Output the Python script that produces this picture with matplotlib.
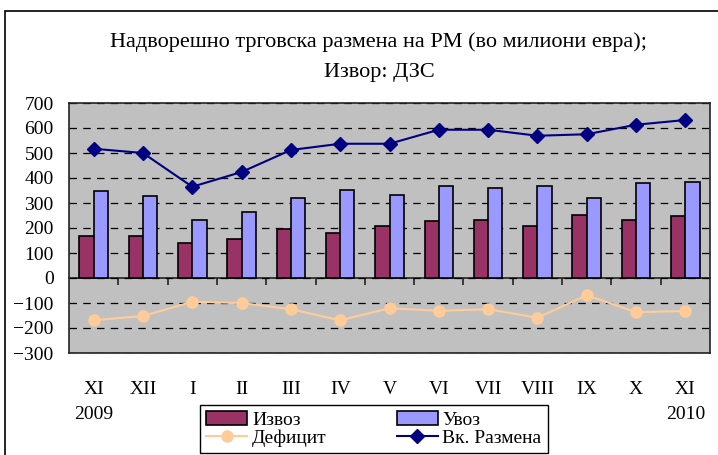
import numpy as np
import matplotlib
matplotlib.use("Agg")
import matplotlib.pyplot as plt
from matplotlib.patches import Rectangle

plt.rcParams['font.family'] = ['Liberation Serif', 'DejaVu Serif']

meseci = ['XI', 'XII', 'I', 'II', 'III', 'IV', 'V', 'VI', 'VII', 'VIII', 'IX', 'X', 'XI']
izvoz = [169, 169, 139, 157, 196, 181, 208, 227, 233, 208, 252, 233, 247]
uvoz = [347, 327, 233, 264, 321, 353, 333, 367, 360, 367, 321, 379, 385]
deficit = [-169, -152, -95, -100, -125, -169, -121, -131, -125, -159, -69, -137, -132]
razmena = [517, 500, 365, 424, 512, 537, 537, 593, 593, 569, 575, 613, 632]
godini = ['2009', '2010']

fig = plt.figure(figsize=(7.18, 4.55), dpi=100)
ax = fig.add_axes([69 / 718, 1 - 353 / 455, 641 / 718, 250 / 455])
ax.set_facecolor('#C0C0C0')

x = np.arange(len(meseci))
w = 0.29
b1 = ax.bar(x - w / 2, izvoz, w, color='#993366', edgecolor='black', linewidth=1.2, zorder=3)
b2 = ax.bar(x + w / 2, uvoz, w, color='#9999FF', edgecolor='black', linewidth=1.2, zorder=3)
l1, = ax.plot(x, deficit, color='#FFCC99', lw=1.5, marker='o', markersize=8, zorder=4)
l2, = ax.plot(x, razmena, color='#000080', lw=1.5, marker='D', markersize=7, zorder=4)

ax.set_xlim(-0.5, len(meseci) - 0.5)
ax.set_ylim(-300, 700)
ax.set_yticks(range(-300, 701, 100))
ax.grid(axis='y', color='black', linestyle=(0, (6, 5)), linewidth=0.9, zorder=1)
ax.set_xticks(x)
ax.set_xticklabels(meseci)
ax.tick_params(axis='x', length=0, pad=20, labelsize=14)
ax.tick_params(axis='y', length=0, pad=11, labelsize=14)
for s in ax.spines.values():
    s.set_linewidth(1.2)
    s.set_color('#222222')

# linija na nula so crticki megju kategoriite
sec = ax.secondary_xaxis(0.3)
sec.set_xticks(x[:-1] + 0.5)
sec.set_xticklabels([])
sec.tick_params(axis='x', direction='out', length=5, width=1.2, color='#222222')
sec.spines['bottom'].set_linewidth(1.2)
sec.spines['bottom'].set_color('#222222')

for xi, g in zip([x[0], x[-1]], godini):
    ax.text(xi, -0.245, g, transform=ax.get_xaxis_transform(), ha='center', va='center', fontsize=14)

fig.text(379 / 718, 1 - 42 / 455, 'Надворешно трговска размена на РМ (во милиони евра);',
         ha='center', va='center', fontsize=16)
fig.text(379 / 718, 1 - 73 / 455, 'Извор: ДЗС', ha='center', va='center', fontsize=16)

fig.legend([b1, l1, b2, l2], ['Извоз', 'Дефицит', 'Увоз', 'Вк. Размена'],
           ncol=2, loc='center', bbox_to_anchor=(374 / 718, 1 - 429 / 455),
           fontsize=14, frameon=True, fancybox=False, edgecolor='black', framealpha=1,
           borderpad=0.35, labelspacing=0.0, handlelength=2.1, handletextpad=0.25,
           columnspacing=3.6, borderaxespad=0)

fig.patches.append(Rectangle((5 / 718, -0.2), 2, 1 - 11 / 455 + 0.2, transform=fig.transFigure,
                             fill=False, edgecolor='black', linewidth=1.2))

fig.savefig('out.png', dpi=100)
